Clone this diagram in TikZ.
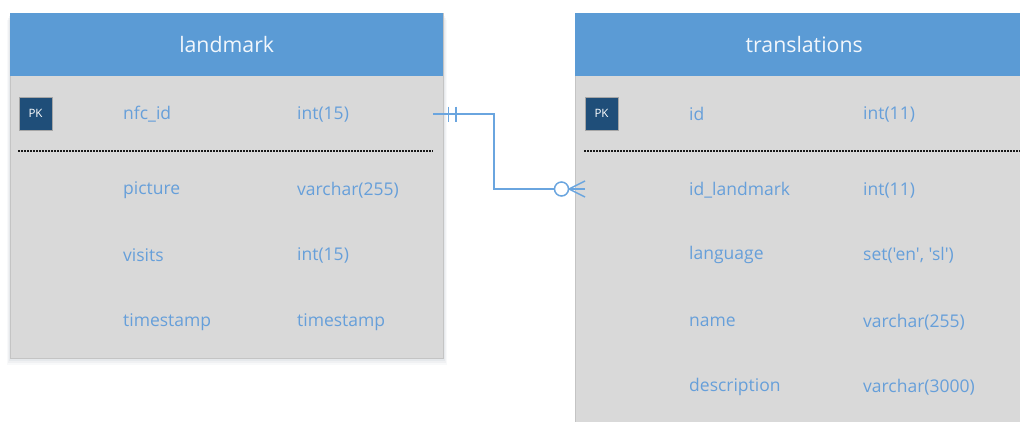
\documentclass[tikz,border=0pt]{standalone}
\usepackage{fontspec}
\setmainfont{Open Sans}
\definecolor{hdrblue}{HTML}{5B9BD5}
\definecolor{bodygray}{HTML}{D9D9D9}
\definecolor{edgegray}{HTML}{C4C4C4}
\definecolor{fieldblue}{HTML}{669FDA}
\definecolor{pkblue}{HTML}{1F4E79}
\definecolor{linkblue}{HTML}{6AA5DF}
\tikzset{
  tablebody/.style={draw=edgegray, line width=0.8pt, fill=bodygray, anchor=north west, inner sep=0pt},
  tablehead/.style={fill=hdrblue, anchor=north west, inner sep=0pt, text=white!92!hdrblue,
    font=\fontsize{21.3}{25}\selectfont},
  pkbox/.style={draw=black!35, line width=0.6pt, fill=pkblue, minimum width=33pt, minimum height=33pt,
    inner sep=0pt, text=white, font=\fontsize{11.5}{13}\selectfont},
  field/.style={anchor=west, inner sep=0pt, text=fieldblue, font=\fontsize{17.5}{21}\selectfont},
  rowsep/.style={line width=1.1pt, dash pattern=on 2pt off 1pt, black!90},
  conn/.style={linkblue, line width=1.5pt},
}
\begin{document}
\begin{tikzpicture}[x=1pt,y=-1pt]
\useasboundingbox (0,0) rectangle (1020,421);
\begin{scope}
\clip (0,0) rectangle (1020,421);

% soft shadow under the landmark table
\foreach \s/\o in {1/0.06,3/0.05,5/0.04,7/0.03}
  \fill[black!60!hdrblue, opacity=\o] (10-\s/2,13+\s) rectangle (443+\s/2,358+\s);

% landmark table
\node[tablebody, minimum width=433pt, minimum height=345pt] (lm) at (10,13) {};
\node[tablehead, minimum width=433pt, minimum height=63pt] (lmh) at (10,13) {landmark};
\node[pkbox] (lmpk) at (35.5,113.5) {PK};
\draw[rowsep] (18,151) -- (433,151);
\node[field] (lmf1) at (123,114) {nfc\_id};
\node[field] (lmt1) at (297,114) {int(15)};
\node[field] (lmf2) at (123,190) {picture};
\node[field] (lmt2) at (297,190) {varchar(255)};
\node[field] (lmf3) at (123,255) {visits};
\node[field] (lmt3) at (297,255) {int(15)};
\node[field] (lmf4) at (123,322) {timestamp};
\node[field] (lmt4) at (297,322) {timestamp};

% translations table
\node[tablebody, minimum width=460pt, minimum height=430pt] (tr) at (575,13) {};
\node[tablehead, minimum width=460pt, minimum height=63pt, text width=452pt, align=center] (trh) at (575,13) {translations\hspace*{2pt}};
\node[pkbox] (trpk) at (601.5,113.5) {PK};
\draw[rowsep] (584,151) -- (1020,151);
\node[field] (trf1) at (689,114) {id};
\node[field] (trt1) at (863,114) {int(11)};
\node[field] (trf2) at (689,190) {id\_landmark};
\node[field] (trt2) at (863,190) {int(11)};
\node[field] (trf3) at (689,255) {language};
\node[field] (trt3) at (863,255) {\addfontfeatures{Ligatures=TeXOff}set('en', 'sl')};
\node[field] (trf4) at (689,322) {name};
\node[field] (trt4) at (863,322) {varchar(255)};
\node[field] (trf5) at (689,387) {description};
\node[field] (trt5) at (863,387) {varchar(3000)};

% one-to-many relationship nfc_id -> id_landmark
\coordinate (src) at (433,114);
\coordinate (foot) at (569,189);
\node[circle, draw=linkblue, line width=1.5pt, fill=white, minimum size=14pt, inner sep=0pt] (opt) at (561.5,189) {};
\draw[conn] (src) -- (494,114) |- (opt.west);
\draw[conn] (448.5,106.5) -- (448.5,121.5);
\draw[conn] (456,106.5) -- (456,121.5);
\draw[conn] (opt.east) -- (585,189);
\draw[conn] (foot) -- (585,181);
\draw[conn] (foot) -- (585,197);
\end{scope}
\end{tikzpicture}
\end{document}
